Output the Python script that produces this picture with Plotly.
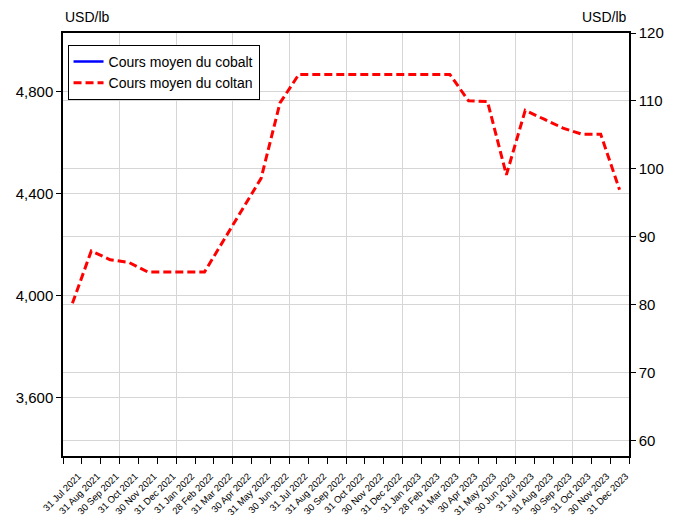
import plotly.graph_objects as go

months = ["31 Jul 2021", "31 Aug 2021", "30 Sep 2021", "31 Oct 2021", "30 Nov 2021", "31 Dec 2021",
          "31 Jan 2022", "28 Feb 2022", "31 Mar 2022", "30 Apr 2022", "31 May 2022", "30 Jun 2022",
          "31 Jul 2022", "31 Aug 2022", "30 Sep 2022", "31 Oct 2022", "30 Nov 2022", "31 Dec 2022",
          "31 Jan 2023", "28 Feb 2023", "31 Mar 2023", "30 Apr 2023", "31 May 2023", "30 Jun 2023",
          "31 Jul 2023", "31 Aug 2023", "30 Sep 2023", "31 Oct 2023", "30 Nov 2023", "31 Dec 2023"]

# cobalt series is not drawn in the source (no values shown)
cobalt = [None] * len(months)

coltan = [80.2, 87.9, 86.6, 86.2, 84.8, 84.8, 84.8, 84.8, 89.4, 94.0,
          98.6, 109.7, 113.9, 113.9, 113.9, 113.9, 113.9, 113.9, 114.0, 114.0,
          113.9, 110.0, 109.9, 99.1, 108.6, 107.3, 106.0, 105.1, 105.1, 96.9]

idx = list(range(len(months)))
FONT = "Liberation Sans, Arial, sans-serif"
GRID = "#d6d6d6"

fig = go.Figure()
fig.add_trace(go.Scatter(x=idx, y=cobalt, name="Cours moyen du cobalt", mode="lines",
                         line=dict(color="#0000ff", width=2.5), xaxis="x", yaxis="y"))
fig.add_trace(go.Scatter(x=idx, y=coltan, name="Cours moyen du coltan", mode="lines",
                         line=dict(color="#ff0000", width=3, dash="8px,4px"),
                         xaxis="x2", yaxis="y2"))

rng = [-0.5, len(months) - 0.5]
fig.update_layout(
    width=681, height=518,
    margin=dict(l=63, r=52, t=33, b=62),
    paper_bgcolor="white", plot_bgcolor="white",
    font=dict(family=FONT, color="black"),
    showlegend=True,
    legend=dict(x=0.008, y=0.972, xanchor="left", yanchor="top",
                bordercolor="black", borderwidth=1, bgcolor="white",
                font=dict(size=14, family=FONT), tracegroupgap=0),
    xaxis=dict(range=rng, tickmode="array", automargin=False,
               tickvals=[i - 0.5 for i in idx if i % 3 == 0 and i > 0],
               showticklabels=False, ticks="", showgrid=True, gridcolor=GRID, gridwidth=1.3,
               zeroline=False, showline=True, linecolor="black", linewidth=1.5, mirror=True,
               minor=dict(ticks="outside", tick0=-0.5, dtick=1, ticklen=6,
                          tickcolor="black", tickwidth=1.3, showgrid=False)),
    xaxis2=dict(range=rng, overlaying="x", anchor="y", side="bottom", automargin=False,
                tickmode="array", tickvals=idx, ticktext=months, tickangle=-45,
                ticks="", ticklabelstandoff=12, ticklabelshift=6,
                tickfont=dict(size=9.5, family=FONT),
                showgrid=False, zeroline=False, showline=False),
    yaxis=dict(range=[3373, 5028], tickmode="array", tickvals=[3600, 4000, 4400, 4800],
               tickformat=",", ticks="outside", ticklen=5, tickcolor="black", automargin=False,
               tickfont=dict(size=15), showgrid=True, gridcolor=GRID, gridwidth=1.3,
               zeroline=False, showline=True, linecolor="black", linewidth=1.5),
    yaxis2=dict(range=[57.7, 120], tickmode="linear", tick0=60, dtick=10, overlaying="y",
                side="right", anchor="x2", ticks="outside", ticklen=5, tickcolor="black",
                automargin=False,
                tickfont=dict(size=15), showgrid=True, gridcolor=GRID, gridwidth=1.3,
                zeroline=False, showline=True, linecolor="black", linewidth=1.5),
    annotations=[
        dict(text="USD/lb", xref="paper", yref="paper", x=0, y=1.037, xanchor="left",
             yanchor="middle", showarrow=False, font=dict(size=14)),
        dict(text="USD/lb", xref="paper", yref="paper", x=1, y=1.037, xanchor="right",
             yanchor="middle", showarrow=False, font=dict(size=14)),
    ],
)

# drop the default page margin so the figure sits at the window origin
fig.write_html("out.html", config={"displayModeBar": False},
               post_script="document.body.style.margin='0px';")
